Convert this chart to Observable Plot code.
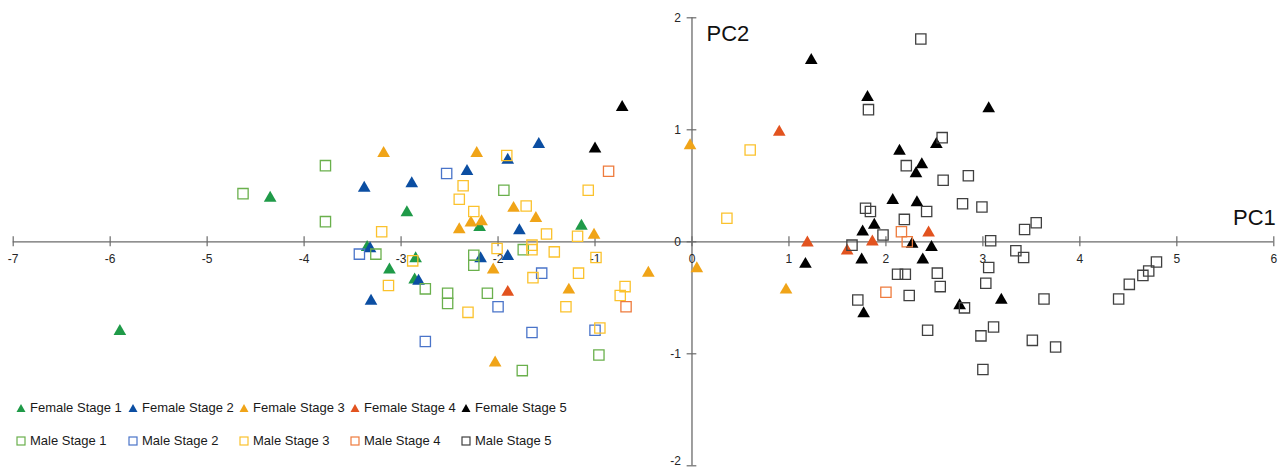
<!DOCTYPE html>
<html>
<head>
<meta charset="utf-8">
<script src="https://cdn.jsdelivr.net/npm/d3@7"></script>
<script src="https://cdn.jsdelivr.net/npm/@observablehq/plot@0.6"></script>
<style>
  body { margin: 0; background: #fff; }
  #wrap { position: relative; width: 1284px; height: 469px; }
  #legend { position: absolute; left: 0; top: 0; width: 1284px; height: 469px; pointer-events: none;
            font-family: "Liberation Sans", Arial, sans-serif; font-size: 13px; color: #1a1a1a; }
  .item { position: absolute; display: flex; align-items: center; white-space: nowrap; }
  .item svg { margin-right: 4px; }
</style>
</head>
<body>
<div id="wrap"><div id="chart"></div><div id="legend"></div></div>
<script>
// ---- data (PC1, PC2) ----
const seriesNames = ["Female Stage 1","Female Stage 2","Female Stage 3","Female Stage 4","Female Stage 5",
                     "Male Stage 1","Male Stage 2","Male Stage 3","Male Stage 4","Male Stage 5"];
const seriesColors = ["#1f9a48","#0b4ea2","#f0a418","#e2531f","#000000",
                      "#6ab04c","#4a74c9","#fbc22d","#ee7b3d","#404040"];
const seriesSymbols = ["triangle","triangle","triangle","triangle","triangle",
                       "square","square","square","square","square"];

const female1 = [[-5.90,-0.80],[-4.35,0.39],[-3.35,-0.05],[-2.94,0.26],[-2.85,-0.15],[-3.12,-0.25],[-2.86,-0.34],[-2.19,0.13],[-1.14,0.14]];
const female2 = [[-3.38,0.48],[-2.89,0.52],[-2.32,0.63],[-1.90,0.73],[-3.32,-0.06],[-3.31,-0.53],[-2.82,-0.35],[-2.18,-0.15],[-1.90,-0.13],[-1.78,0.10],[-1.58,0.87]];
const female3 = [[-3.18,0.79],[-2.22,0.79],[-1.84,0.30],[-2.40,0.11],[-2.28,0.17],[-2.17,0.18],[-2.05,-0.25],[-2.03,-1.08],[-1.61,0.21],[-1.01,0.06],[-1.27,-0.43],[-0.45,-0.28],[-0.02,0.86],[0.05,-0.24],[0.97,-0.43]];
const female4 = [[-1.90,-0.45],[0.90,0.98],[1.19,-0.01],[1.60,-0.08],[1.86,0.00],[2.44,0.08]];
const female5 = [[-0.72,1.20],[-1.00,0.83],[1.23,1.62],[1.81,1.29],[3.06,1.19],[2.14,0.81],[2.52,0.87],[2.37,0.69],[2.31,0.61],[2.07,0.37],[2.32,0.35],[1.76,0.09],[1.88,0.15],[2.27,-0.02],[2.47,-0.05],[2.38,-0.16],[1.75,-0.16],[1.17,-0.20],[1.77,-0.64],[2.76,-0.57],[3.19,-0.52]];
const male1 = [[-4.63,0.43],[-3.78,0.68],[-3.78,0.18],[-3.26,-0.11],[-2.75,-0.42],[-2.52,-0.46],[-2.52,-0.55],[-2.25,-0.12],[-2.25,-0.21],[-1.94,0.46],[-2.11,-0.46],[-1.74,-0.07],[-1.75,-1.15],[-0.96,-1.01]];
const male2 = [[-2.53,0.61],[-3.43,-0.11],[-2.00,-0.58],[-2.75,-0.89],[-1.55,-0.28],[-1.65,-0.81],[-1.00,-0.79]];
const male3 = [[-3.20,0.09],[-3.13,-0.39],[-2.88,-0.17],[-2.36,0.50],[-2.40,0.38],[-2.25,0.27],[-1.91,0.77],[-2.31,-0.63],[-2.01,-0.06],[-1.71,0.32],[-1.50,0.07],[-1.65,-0.03],[-1.65,-0.07],[-1.42,-0.09],[-1.64,-0.32],[-1.18,0.05],[-1.07,0.46],[-1.17,-0.28],[-1.30,-0.58],[-0.99,-0.14],[-0.69,-0.40],[-0.74,-0.48],[-0.95,-0.77],[0.60,0.82],[0.36,0.21]];
const male4 = [[-0.86,0.63],[-0.68,-0.58],[2.16,0.09],[2.22,0.00],[2.00,-0.45]];
const male5 = [[2.36,1.81],[1.82,1.18],[2.58,0.93],[2.21,0.68],[2.59,0.55],[2.85,0.59],[2.79,0.34],[2.99,0.31],[1.79,0.30],[1.84,0.27],[2.42,0.27],[2.19,0.20],[1.97,0.06],[1.65,-0.03],[3.08,0.01],[3.43,0.11],[3.55,0.17],[3.34,-0.08],[3.42,-0.14],[3.06,-0.23],[3.03,-0.37],[2.12,-0.29],[2.20,-0.29],[2.53,-0.28],[2.56,-0.40],[2.24,-0.48],[1.71,-0.52],[2.81,-0.59],[3.63,-0.51],[2.43,-0.79],[3.11,-0.76],[2.98,-0.84],[3.51,-0.88],[3.75,-0.94],[3.00,-1.14],[4.79,-0.18],[4.71,-0.26],[4.65,-0.30],[4.51,-0.38],[4.40,-0.51]];

const seriesData = [female1,female2,female3,female4,female5,male1,male2,male3,male4,male5];

const xTicks = [-7,-6,-5,-4,-3,-2,-1,0,1,2,3,4,5,6];
const yTicks = [-2,-1,0,1,2];

// ---- chart ----
const axisColor = "#6b6b6b";
const labelFont = "Liberation Sans, Arial, sans-serif";
const tickColor = "#262626";

const dotMarks = seriesData.map((pts, i) => {
  const female = seriesSymbols[i] === "triangle";
  return Plot.dot(pts, {
    x: d => d[0], y: d => d[1],
    symbol: seriesSymbols[i],
    r: female ? 4.7 : 5.8,
    fill: female ? seriesColors[i] : "none",
    stroke: female ? "none" : seriesColors[i],
    strokeWidth: 1.3
  });
});

const chart = Plot.plot({
  width: 1284,
  height: 469,
  marginLeft: 12.7,
  marginRight: 10.7,
  marginTop: 17.3,
  marginBottom: 3.7,
  x: { domain: [-7, 6], axis: null },
  y: { domain: [-2, 2], axis: null },
  style: { fontFamily: labelFont, background: "#fff" },
  marks: [
    Plot.ruleY([0], { stroke: axisColor, strokeWidth: 1.3 }),
    Plot.ruleX([0], { stroke: axisColor, strokeWidth: 1.3 }),
    Plot.ruleX(xTicks, { x: d => d, y1: -0.045, y2: 0.045, stroke: axisColor, strokeWidth: 1.2 }),
    Plot.ruleY(yTicks, { y: d => d, x1: -0.05, x2: 0.05, stroke: axisColor, strokeWidth: 1.2 }),
    Plot.text(xTicks, { x: d => d, y: 0, dy: 17, text: d => String(d), fontSize: 12, fill: tickColor }),
    Plot.text(yTicks.filter(d => d > -2), { x: 0, y: d => d, dx: -11, textAnchor: "end", text: d => String(d), fontSize: 12, fill: tickColor }),
    Plot.text(yTicks.filter(d => d === -2), { x: 0, y: d => d, dx: -11, textAnchor: "end", lineAnchor: "bottom", dy: -1, text: d => String(d), fontSize: 12, fill: tickColor }),
    Plot.text(["PC1"], { x: 6, y: 0.21, textAnchor: "end", dx: 2, text: d => d, fontSize: 22, fill: "#111" }),
    Plot.text(["PC2"], { x: 0.15, y: 1.86, textAnchor: "start", text: d => d, fontSize: 22, fill: "#111" }),
    ...dotMarks
  ]
});
document.getElementById("chart").appendChild(chart);

// ---- legend (overlay in the lower-left empty area) ----
const legend = document.getElementById("legend");
const colLeft = [16, 128, 239, 350, 461];
seriesNames.forEach((name, i) => {
  const row = i < 5 ? 0 : 1;
  const col = i % 5;
  const el = document.createElement("div");
  el.className = "item";
  el.style.left = colLeft[col] + "px";
  el.style.top = (row === 0 ? 400 : 433) + "px";
  const female = seriesSymbols[i] === "triangle";
  const sym = female
    ? `<svg width="10" height="10"><polygon points="5,1 9.5,9 0.5,9" fill="${seriesColors[i]}"/></svg>`
    : `<svg width="10" height="10"><rect x="1" y="1" width="8" height="8" fill="none" stroke="${seriesColors[i]}" stroke-width="1.2"/></svg>`;
  el.innerHTML = sym + `<span>${name}</span>`;
  legend.appendChild(el);
});
</script>
</body>
</html>
